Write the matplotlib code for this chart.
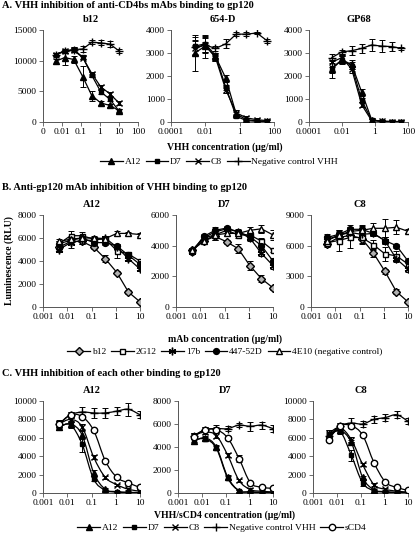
import numpy as np
import matplotlib
matplotlib.use("Agg")
import matplotlib.pyplot as plt
from matplotlib.path import Path
from matplotlib.patches import PathPatch
from matplotlib.lines import Line2D

plt.rcParams['font.family'] = ['Liberation Serif', 'DejaVu Serif']
plt.rcParams['mathtext.fontset'] = 'stix'

# ---------------- data ----------------
conc_3fold = [0.0046, 0.0137, 0.041, 0.123, 0.37, 1.11, 3.33, 10]
conc_4fold = [0.00244, 0.0098, 0.039, 0.156, 0.625, 2.5, 10, 40]

# Panel A: VHH inhibition of anti-CD4bs mAbs
a_names = ["A12", "D7", "C8", "Negative control VHH"]
a_b12 = [[9900, 10500, 10200, 7400, 4300, 3100, 2700, 1850],
         [11000, 11500, 11800, 10600, 7600, 4900, 3700, 1800],
         [11000, 11500, 11700, 10500, 7900, 5700, 4600, 3100],
         [11000, 11600, 11800, 11900, 13000, 12900, 12700, 11600]]
a_b12_err = [[400, 1200, 500, 1700, 800, 300, 300, 300],
             [300, 300, 300, 300, 300, 300, 300, 300],
             [300, 300, 300, 300, 300, 300, 300, 300],
             [300, 300, 400, 500, 300, 400, 500, 300]]
a_654 = [[3000, 3300, 2850, 1900, 350, 100, 50, 30],
         [3300, 3400, 2900, 1500, 250, 60, 30, 20],
         [3200, 3350, 2800, 1400, 400, 180, 100, 60],
         [3250, 3350, 3200, 3400, 3820, 3820, 3870, 3530]]
a_654_err = [[780, 500, 150, 150, 100, 80, 50, 50],
             [400, 350, 100, 100, 80, 50, 50, 50],
             [300, 300, 150, 150, 100, 80, 60, 50],
             [300, 350, 100, 200, 80, 80, 50, 80]]
a_gp68 = [[2300, 2700, 2500, 1300, 100, 30, 20, 20],
          [2350, 2700, 2450, 950, 80, 20, 10, 10],
          [2600, 2800, 2300, 750, 60, 40, 20, 20],
          [2800, 3050, 3100, 3200, 3350, 3300, 3280, 3200]]
a_gp68_err = [[400, 200, 200, 150, 80, 50, 50, 50],
              [200, 150, 150, 100, 60, 50, 50, 50],
              [200, 150, 150, 100, 60, 50, 50, 50],
              [150, 100, 200, 200, 250, 250, 200, 80]]

# Panel B: anti-gp120 mAb inhibition of VHH binding
b_names = ["b12", "2G12", "17b", "447-52D", "4E10 (negative control)"]
b_a12 = [[5200, 5700, 5700, 5200, 4200, 3000, 1300, 450],
         [5500, 6200, 6200, 5900, 5900, 4900, 4600, 4000],
         [5000, 5600, 5800, 5800, 6000, 5200, 4200, 3300],
         [5500, 5800, 6000, 5600, 5600, 5300, 4500, 3700],
         [5700, 5900, 6000, 6000, 5950, 6400, 6400, 6300]]
b_a12_err = [[200, 200, 200, 150, 300, 150, 150, 100],
             [200, 400, 300, 200, 200, 600, 200, 200],
             [200, 500, 300, 200, 150, 200, 200, 200],
             [200, 300, 300, 200, 200, 200, 200, 200],
             [200, 200, 200, 200, 200, 200, 150, 150]]
b_d7 = [[3700, 4300, 4600, 4250, 3800, 2700, 1850, 1250],
        [3700, 4500, 4700, 5000, 4700, 4700, 4300, 3700],
        [3600, 4500, 4900, 5100, 4900, 4500, 3500, 2700],
        [3600, 4600, 5000, 5150, 4900, 4600, 4000, 3000],
        [3700, 4300, 4700, 4800, 4800, 5000, 5100, 4700]]
b_d7_err = [[150, 150, 200, 150, 300, 300, 250, 150],
            [150, 200, 200, 200, 200, 200, 200, 100],
            [150, 200, 200, 150, 200, 200, 200, 200],
            [150, 150, 200, 150, 150, 200, 200, 200],
            [150, 200, 300, 200, 200, 250, 250, 300]]
b_c8 = [[6200, 6800, 7000, 6700, 5300, 3500, 1500, 500],
        [6300, 6500, 6800, 6800, 6100, 5200, 5000, 4200],
        [6600, 7000, 7300, 7100, 7200, 6500, 4700, 3700],
        [6800, 7100, 7600, 7600, 7200, 6500, 6000, 4500],
        [6500, 7000, 7400, 7500, 7700, 7700, 7800, 7400]]
b_c8_err = [[300, 400, 400, 400, 400, 250, 250, 150],
            [300, 1000, 1000, 600, 500, 700, 500, 300],
            [300, 400, 400, 400, 300, 300, 300, 300],
            [300, 400, 400, 400, 300, 300, 200, 200],
            [300, 300, 400, 400, 500, 900, 700, 200]]

# Panel C: VHH inhibition of each other
c_names = ["A12", "D7", "C8", "Negative control VHH", "sCD4"]
c_a12 = [[7200, 7500, 6300, 2200, 400, 150, 80, 50],
         [7200, 7400, 5300, 1500, 300, 100, 50, 30],
         [7500, 8000, 7200, 3900, 1700, 900, 400, 200],
         [7500, 8500, 8800, 8700, 8700, 8900, 9100, 8500],
         [7500, 8500, 8300, 6800, 3500, 1700, 1100, 600]]
c_a12_err = [[300, 300, 400, 300, 100, 50, 50, 50],
             [300, 300, 800, 200, 100, 50, 50, 50],
             [300, 300, 300, 200, 200, 100, 100, 100],
             [400, 300, 500, 500, 500, 400, 700, 400],
             [300, 300, 200, 200, 150, 150, 150, 150]]
c_d7 = [[4500, 4800, 4000, 1400, 200, 100, 50, 30],
        [4600, 4700, 3900, 1300, 200, 80, 40, 20],
        [5000, 5300, 5000, 3300, 1100, 300, 150, 100],
        [5000, 5500, 5600, 5600, 5900, 5800, 5900, 5600],
        [4900, 5500, 5500, 4800, 3000, 900, 500, 400]]
c_d7_err = [[200, 200, 200, 150, 100, 50, 50, 50],
            [200, 200, 200, 150, 100, 50, 50, 50],
            [200, 200, 200, 200, 150, 100, 100, 100],
            [200, 200, 300, 200, 200, 400, 300, 300],
            [200, 200, 200, 200, 300, 100, 100, 100]]
c_c8 = [[6300, 6800, 5500, 1700, 350, 150, 80, 50],
        [6100, 6700, 4100, 1100, 250, 100, 50, 30],
        [6500, 7100, 5800, 3100, 900, 400, 200, 100],
        [6200, 7300, 7600, 7500, 8000, 8200, 8500, 7800],
        [5800, 7300, 7300, 6300, 3300, 1200, 600, 300]]
c_c8_err = [[300, 300, 300, 200, 100, 50, 50, 50],
            [300, 300, 600, 300, 100, 50, 50, 50],
            [300, 300, 300, 200, 150, 100, 100, 100],
            [300, 300, 500, 300, 400, 400, 400, 300],
            [300, 300, 200, 200, 200, 100, 100, 100]]

# ---------------- styles ----------------
STY = {
    "A12": dict(marker='^', mfc='black', mec='black', ms=4.2),
    "D7": dict(marker='s', mfc='black', mec='black', ms=3.4),
    "C8": dict(marker='x', mfc='none', mec='black', ms=4.5, mew=1.0),
    "Negative control VHH": dict(marker='+', mfc='none', mec='black', ms=6, mew=1.0),
    "b12": dict(marker='D', mfc='#b0b0b0', mec='black', ms=3.6),
    "2G12": dict(marker='s', mfc='white', mec='black', ms=3.6),
    "17b": dict(marker=(6, 2, 0), mfc='black', mec='black', ms=5.5, mew=1.0),
    "447-52D": dict(marker='o', mfc='black', mec='black', ms=4.2),
    "4E10 (negative control)": dict(marker='^', mfc='white', mec='black', ms=4.8),
    "sCD4": dict(marker='o', mfc='white', mec='black', ms=4.6),
}
C_STY = dict(STY)
C_STY["D7"] = dict(marker='s', mfc='black', mec='black', ms=2.8)

W, H = 416, 540
fig = plt.figure(figsize=(W / 100, H / 100), dpi=100)


def add_ax(x0, x1, yt, yb):
    return fig.add_axes([x0 / W, 1 - yb / H, (x1 - x0) / W, (yb - yt) / H])


def smooth_path(x, y):
    lx = np.log10(np.asarray(x, float))
    yy = np.asarray(y, float)
    n = len(lx)
    verts = [(lx[0], yy[0])]
    codes = [Path.MOVETO]
    for i in range(n - 1):
        p0 = (lx[max(i - 1, 0)], yy[max(i - 1, 0)])
        p1 = (lx[i], yy[i])
        p2 = (lx[i + 1], yy[i + 1])
        p3 = (lx[min(i + 2, n - 1)], yy[min(i + 2, n - 1)])
        c1 = (p1[0] + (p2[0] - p0[0]) / 6, p1[1] + (p2[1] - p0[1]) / 6)
        c2 = (p2[0] - (p3[0] - p1[0]) / 6, p2[1] - (p3[1] - p1[1]) / 6)
        verts += [c1, c2, p2]
        codes += [Path.CURVE4] * 3
    verts = [(10 ** vx, vy) for vx, vy in verts]
    return Path(verts, codes)


def panel(ax, x, data, errs, names, styles, title, xlim, xticks, xtlabels,
          ylim, yticks, smooth=False):
    for vals, err, nm in zip(data, errs, names):
        st = styles[nm]
        ax.errorbar(x, vals, yerr=err, fmt='none', ecolor='black',
                    elinewidth=0.7, capsize=2.2, capthick=0.7, zorder=2)
        if smooth:
            ax.add_patch(PathPatch(smooth_path(x, vals), fill=False,
                                   lw=0.9, edgecolor='black', zorder=3))
            ax.plot(x, vals, linestyle='none', zorder=4, **st)
        else:
            ax.plot(x, vals, color='black', lw=0.9, zorder=3, **st)
    ax.set_xscale('log')
    ax.set_xlim(*xlim)
    ax.set_ylim(*ylim)
    ax.set_xticks(xticks)
    ax.set_xticklabels(xtlabels)
    ax.xaxis.set_minor_locator(matplotlib.ticker.NullLocator())
    ax.set_yticks(yticks)
    ax.set_yticklabels([str(v) for v in yticks])
    for s in ['top', 'right']:
        ax.spines[s].set_visible(False)
    for s in ['left', 'bottom']:
        ax.spines[s].set_linewidth(0.7)
        ax.spines[s].set_color('#555555')
    ax.tick_params(axis='both', direction='out', length=3, width=0.6,
                   labelsize=6.8, pad=1.5, color='#555555')
    ax.set_title(title, fontsize=7.5, fontweight='bold', pad=6)
    ax.patch.set_alpha(0)


# Panel A
axA1 = add_ax(43, 138, 30, 122)
axA2 = add_ax(171, 274, 30, 122)
axA3 = add_ax(309, 408, 30, 122)
panel(axA1, conc_3fold, a_b12, a_b12_err, a_names, STY, "b12",
      (0.001, 100), [0.001, 0.01, 0.1, 1, 10, 100],
      ["0", "0.01", "0.1", "1", "10", "100"],
      (0, 15000), [0, 5000, 10000, 15000])
panel(axA2, conc_4fold, a_654, a_654_err, a_names, STY, "654-D",
      (0.0001, 100), [0.0001, 0.01, 1, 100],
      ["0.0001", "0.01", "1", "100"],
      (0, 4000), [0, 1000, 2000, 3000, 4000])
panel(axA3, conc_4fold, a_gp68, a_gp68_err, a_names, STY, "GP68",
      (0.0001, 100), [0.0001, 0.01, 1, 100],
      ["0.0001", "0.01", "1", "100"],
      (0, 4000), [0, 1000, 2000, 3000, 4000])

# Panel B
axB1 = add_ax(43, 140, 215, 307)
axB2 = add_ax(176, 273, 215, 307)
axB3 = add_ax(311, 408, 215, 307)
xt = [0.001, 0.01, 0.1, 1, 10]
xtl = ["0.001", "0.01", "0.1", "1", "10"]
panel(axB1, conc_3fold, b_a12, b_a12_err, b_names, STY, "A12",
      (0.001, 10), xt, xtl, (0, 8000), [0, 2000, 4000, 6000, 8000])
panel(axB2, conc_3fold, b_d7, b_d7_err, b_names, STY, "D7",
      (0.001, 10), xt, xtl, (0, 6000), [0, 2000, 4000, 6000])
panel(axB3, conc_3fold, b_c8, b_c8_err, b_names, STY, "C8",
      (0.001, 10), xt, xtl, (0, 9000), [0, 3000, 6000, 9000])

# Panel C
axC1 = add_ax(43, 140, 401, 493)
axC2 = add_ax(178, 273, 401, 493)
axC3 = add_ax(313, 408, 401, 493)
panel(axC1, conc_3fold, c_a12, c_a12_err, c_names, C_STY, "A12",
      (0.001, 10), xt, xtl, (0, 10000), [0, 2000, 4000, 6000, 8000, 10000],
      smooth=True)
panel(axC2, conc_3fold, c_d7, c_d7_err, c_names, C_STY, "D7",
      (0.001, 10), xt, xtl, (0, 8000), [0, 2000, 4000, 6000, 8000],
      smooth=True)
panel(axC3, conc_3fold, c_c8, c_c8_err, c_names, C_STY, "C8",
      (0.001, 10), xt, xtl, (0, 10000), [0, 2000, 4000, 6000, 8000, 10000],
      smooth=True)

# Section titles and labels
def ftext(x, y, s, **kw):
    fig.text(x / W, 1 - y / H, s, **kw)

ftext(2, 6, "A. VHH inhibition of anti-CD4bs mAbs binding to gp120",
      fontsize=7.5, fontweight='bold', va='center', ha='left')
ftext(2, 188, "B. Anti-gp120 mAb inhibition of VHH binding to gp120",
      fontsize=7.5, fontweight='bold', va='center', ha='left')
ftext(2, 373, "C. VHH inhibition of each other binding to gp120",
      fontsize=7.5, fontweight='bold', va='center', ha='left')

ftext(225, 147, "VHH concentration (µg/ml)", fontsize=7, fontweight='bold',
      va='center', ha='center')
ftext(225, 339, "mAb concentration (µg/ml)", fontsize=7, fontweight='bold',
      va='center', ha='center')
ftext(225, 515, "VHH/sCD4 concentration (µg/ml)", fontsize=7,
      fontweight='bold', va='center', ha='center')
ftext(9, 261, "Luminescence (RLU)", fontsize=7, fontweight='bold',
      va='center', ha='center', rotation=90)


def legend(names, styles, y, x=220):
    handles = [Line2D([0], [0], color='black', lw=0.9, **styles[n]) for n in names]
    fig.legend(handles, names, loc='center', bbox_to_anchor=(x / W, 1 - y / H),
               ncol=len(names), frameon=False, fontsize=6.8, handlelength=2.4,
               handletextpad=0.2, columnspacing=0.5, numpoints=1,
               borderaxespad=0, borderpad=0)

legend(a_names, STY, 162, x=219)
legend(b_names, STY, 352, x=225)
legend(c_names, C_STY, 528, x=222)

fig.savefig("out.png", dpi=100)
